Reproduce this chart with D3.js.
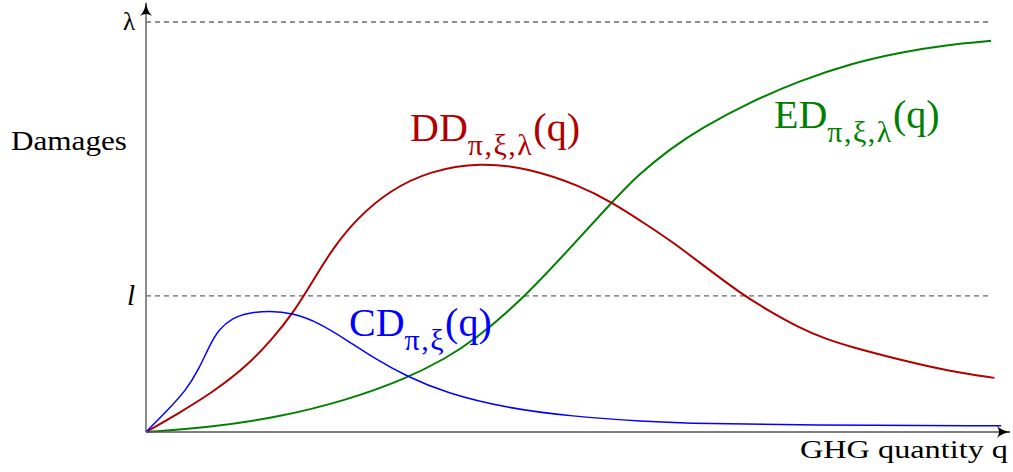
<!DOCTYPE html>
<html>
<head>
<meta charset="utf-8">
<script src="https://cdn.jsdelivr.net/npm/d3@7/dist/d3.min.js"></script>
<style>
  html, body { margin: 0; padding: 0; background: #fff; }
  svg { display: block; }
  text { font-family: "Liberation Serif", "DejaVu Serif", serif; }
</style>
</head>
<body>
<svg id="chart" width="1013" height="472"></svg>
<script>
// Damage thresholds on the vertical axis
const lambdaLevel = 1.0;
const lLevel = 0.332;
const yTickValues = [lLevel, lambdaLevel];
const yTickLabels = ["l", "λ"];

// Catastrophic damages CD_{π,ξ}(q)
const cdQ = [0, 2.4, 4.7, 6.3, 7.5, 8.6, 10.2, 12.0, 14.6, 17.4, 20.5, 23.7, 27.0, 30.8, 35.5, 42.7, 50.5, 58.5, 66.4, 77.4, 101.2];
const cdV = [0, 0.050, 0.100, 0.155, 0.210, 0.250, 0.278, 0.290, 0.296, 0.290, 0.266, 0.225, 0.180, 0.136, 0.095, 0.058, 0.038, 0.026, 0.020, 0.017, 0.015];

// Diffuse damages DD_{π,ξ,λ}(q)
const ddQ = [0, 3.9, 7.9, 11.8, 15.0, 17.4, 19.8, 22.1, 25.0, 28.9, 33.6, 39.5, 45.4, 51.4, 55.0, 59.3, 62.4, 65.6, 70.3, 73.5, 77.4, 80.3, 83.3, 89.2, 95.1, 100.4];
const ddV = [0, 0.046, 0.097, 0.158, 0.228, 0.290, 0.370, 0.448, 0.522, 0.590, 0.637, 0.658, 0.643, 0.600, 0.562, 0.505, 0.462, 0.412, 0.339, 0.298, 0.253, 0.228, 0.208, 0.176, 0.148, 0.132];

// Expected damages ED_{π,ξ,λ}(q)
const edQ = [0, 7.9, 15.7, 23.7, 30.8, 35.5, 38.7, 44.3, 49.8, 54.9, 58.1, 62.0, 65.6, 71.5, 77.4, 83.3, 89.2, 95.1, 100];
const edV = [0, 0.012, 0.036, 0.077, 0.130, 0.180, 0.222, 0.318, 0.440, 0.555, 0.625, 0.690, 0.740, 0.805, 0.857, 0.898, 0.926, 0.945, 0.954];

const svg = d3.select("#chart");

const x = d3.scaleLinear().domain([0, 100]).range([146, 991]);
const y = d3.scaleLinear().domain([0, 1]).range([432, 22]);

// arrow heads
const defs = svg.append("defs");
defs.append("marker")
  .attr("id", "arrow")
  .attr("viewBox", "0 0 14 12")
  .attr("refX", 13).attr("refY", 6)
  .attr("markerWidth", 14).attr("markerHeight", 12)
  .attr("markerUnits", "userSpaceOnUse")
  .attr("orient", "auto")
  .append("path")
  .attr("d", "M0,0 Q5,5 14,6 Q5,7 0,12 Q4,6 0,0 Z")
  .attr("fill", "#000");

// dashed threshold lines
svg.append("line")
  .attr("x1", x(0)).attr("x2", x(100))
  .attr("y1", y(lambdaLevel)).attr("y2", y(lambdaLevel))
  .attr("stroke", "#222").attr("stroke-width", 1)
  .attr("stroke-dasharray", "5,4");
svg.append("line")
  .attr("x1", x(0)).attr("x2", x(100))
  .attr("y1", y(lLevel)).attr("y2", y(lLevel))
  .attr("stroke", "#666").attr("stroke-width", 1.4)
  .attr("stroke-dasharray", "5,4");

// curves
const line = d3.line()
  .x(d => x(d[0]))
  .y(d => y(d[1]))
  .curve(d3.curveBasis);

const series = [
  { q: edQ, v: edV, color: "#008000", width: 2 },
  { q: ddQ, v: ddV, color: "#b00000", width: 2 },
  { q: cdQ, v: cdV, color: "#0000ff", width: 1.5 }
];
series.forEach(s => {
  svg.append("path")
    .datum(s.q.map((q, i) => [q, s.v[i]]))
    .attr("d", line)
    .attr("fill", "none")
    .attr("stroke", s.color)
    .attr("stroke-width", s.width);
});

// axes lines with arrows
svg.append("line")
  .attr("x1", x(0)).attr("y1", y(0))
  .attr("x2", 1010).attr("y2", y(0))
  .attr("stroke", "#555").attr("stroke-width", 1.5)
  .attr("marker-end", "url(#arrow)");
svg.append("line")
  .attr("x1", x(0)).attr("y1", y(0))
  .attr("x2", x(0)).attr("y2", 3)
  .attr("stroke", "#666").attr("stroke-width", 1.5)
  .attr("marker-end", "url(#arrow)");

// tick labels on the damage axis
const yAxis = d3.axisLeft(y)
  .tickValues(yTickValues)
  .tickFormat((d, i) => yTickLabels[i])
  .tickSize(0)
  .tickPadding(11);
const gy = svg.append("g").attr("transform", `translate(${x(0)},0)`).call(yAxis);
gy.select(".domain").remove();
gy.selectAll("text")
  .attr("font-family", "Liberation Serif, DejaVu Serif, serif")
  .attr("font-size", (d, i) => i === 0 ? 29 : 25)
  .attr("fill", "#000")
  .attr("dy", "0.3em")
  .attr("font-style", (d, i) => i === 0 ? "italic" : "normal");

// axis titles
svg.append("text")
  .attr("x", 11).attr("y", 150)
  .attr("font-size", 27)
  .attr("textLength", 116).attr("lengthAdjust", "spacingAndGlyphs")
  .text("Damages");
svg.append("text")
  .attr("x", 800).attr("y", 458)
  .attr("font-size", 25)
  .attr("textLength", 208).attr("lengthAdjust", "spacingAndGlyphs")
  .text("GHG quantity q");

// curve labels with subscripts
function curveLabel(px, py, main, sub, color, size) {
  const t = svg.append("text")
    .attr("x", px).attr("y", py)
    .attr("fill", color)
    .attr("font-size", size);
  t.append("tspan").text(main);
  t.append("tspan")
    .attr("font-size", size * 0.75)
    .attr("letter-spacing", 1.5)
    .attr("dy", size * 0.34)
    .text(sub);
  t.append("tspan").attr("dy", -size * 0.34).text("(q)");
}
curveLabel(410, 141, "DD", "π,ξ,λ", "#b00000", 40);
curveLabel(774, 128, "ED", "π,ξ,λ", "#008000", 40);
curveLabel(349, 336, "CD", "π,ξ", "#0000ff", 40);
</script>
</body>
</html>
